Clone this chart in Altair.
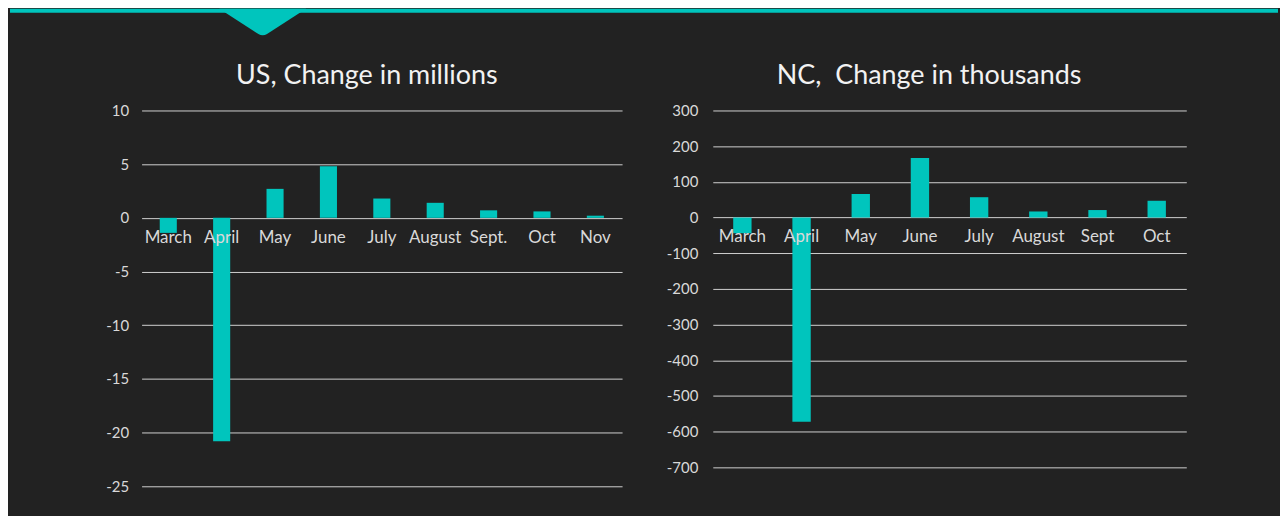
import altair as alt
import pandas as pd

# ---- data ----
us_months = ["March", "April", "May", "June", "July", "August", "Sept.", "Oct", "Nov"]
us_values = [-1.4, -20.8, 2.7, 4.8, 1.8, 1.4, 0.7, 0.6, 0.2]
us_ticks = [-25, -20, -15, -10, -5, 0, 5, 10]

nc_months = ["March", "April", "May", "June", "July", "August", "Sept", "Oct"]
nc_values = [-44, -572, 66, 167, 57, 17, 21, 47]
nc_ticks = [-700, -600, -500, -400, -300, -200, -100, 0, 100, 200, 300]

TEAL = "#00C5BD"
BG = "#222222"
FONT = "Lato"
LABEL = "#d9d9d9"


def panel(months, values, ticks, title, width, height, pad_inner, label_pad, title_x, deco=False):
    df = pd.DataFrame({"month": months, "value": values, "zero": [0] * len(months)})
    xenc = alt.X("month:N", sort=months, axis=None,
                 scale=alt.Scale(paddingInner=pad_inner, paddingOuter=pad_inner / 2))
    yscale = alt.Scale(domain=[ticks[0], ticks[-1]], nice=False)
    yaxis = alt.Axis(values=ticks, title=None, grid=True, ticks=False, domain=False,
                     labelExpr="'' + datum.value",
                     labelPadding=label_pad, labelFontSize=15, labelColor=LABEL,
                     labelFont=FONT, gridColor="#d0d0d0", gridWidth=1)
    bars = alt.Chart(df).mark_bar(color=TEAL).encode(
        x=xenc,
        y=alt.Y("value:Q", scale=yscale, axis=yaxis),
        y2=alt.Y2("zero:Q"),
    )
    labels = alt.Chart(df).mark_text(dy=20, fontSize=17, color=LABEL, font=FONT,
                                     baseline="middle").encode(
        x=xenc,
        y=alt.Y("zero:Q", scale=yscale, axis=yaxis),
        text="month:N",
    )
    one = pd.DataFrame({"t": [title]})
    ttl = alt.Chart(one).mark_text(fontSize=27, font=FONT, color="#f2f2f2",
                                   baseline="alphabetic", align="center").encode(
        x=alt.value(title_x), y=alt.value(-27), text="t:N")
    layers = [bars, labels, ttl]
    if deco:
        band = alt.Chart(one).mark_rule(color=TEAL, strokeWidth=4, strokeCap="butt").encode(
            x=alt.value(-132), x2=alt.value(1140), y=alt.value(-100))
        chevron = alt.Chart(one).mark_point(
            shape="M-1,-1L1,-1L0.1,-0.42Q0,-0.36,-0.1,-0.42Z", filled=True, opacity=1,
            color=TEAL, size=7569, strokeWidth=0).encode(
            x=alt.value(121.5), y=alt.value(-58.5))
        layers = [band, chevron] + layers
    return alt.layer(*layers).properties(width=width, height=height)


left = panel(us_months, us_values, us_ticks, "US, Change in millions", 482, 377, 0.68, 13, 226, deco=True)
right = panel(nc_months, nc_values, nc_ticks, "NC,\u00a0 Change in thousands", 475, 358, 0.69, 15, 217)

chart = alt.hconcat(left, right, spacing=91, bounds="flush").properties(
    background=BG,
    padding={"left": 0, "top": 0, "right": 0, "bottom": 21},
).configure_view(stroke=None)

chart.save("out.html", embed_options={"renderer": "svg", "actions": False})
